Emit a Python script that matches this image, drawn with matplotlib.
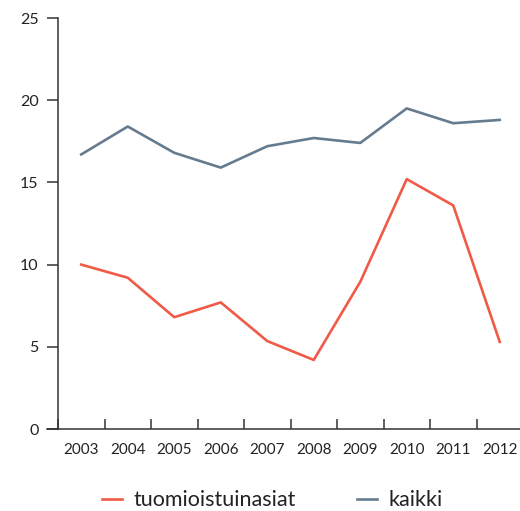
import numpy as np
import matplotlib.pyplot as plt
from matplotlib.ticker import FixedLocator

# Data
years = ['2003', '2004', '2005', '2006', '2007', '2008', '2009', '2010', '2011', '2012']
tuomioistuinasiat = [10.0, 9.2, 6.8, 7.7, 5.35, 4.2, 8.95, 15.2, 13.6, 5.3]
kaikki = [16.7, 18.4, 16.8, 15.9, 17.2, 17.7, 17.4, 19.5, 18.6, 18.8]

red = '#f05a46'
grey = '#667b8e'
axis_col = '#333333'

plt.rcParams['font.family'] = ['Lato', 'DejaVu Sans']

fig = plt.figure(figsize=(5.2, 5.11), dpi=100)
ax = fig.add_axes([58 / 520, 1 - 429 / 511, 1 - 58 / 520, (429 - 18) / 511])

x = np.arange(len(years))
ax.plot(x, tuomioistuinasiat, color=red, lw=1.9, label='tuomioistuinasiat')
ax.plot(x, kaikki, color=grey, lw=1.9, label='kaikki')

ax.set_ylim(0, 25)
ax.set_xlim(-0.5, -0.5 + 462 / 46.5)
ax.set_yticks([0, 5, 10, 15, 20, 25])

ax.set_xticks(x)
ax.set_xticklabels(years)
ax.xaxis.set_minor_locator(FixedLocator(np.arange(len(years)) - 0.5))
ax.tick_params(axis='x', which='major', length=0, pad=10, labelsize=11, labelcolor='#222222')
ax.tick_params(axis='x', which='minor', direction='in', length=7.5, width=1.1, color=axis_col)
ax.tick_params(axis='y', direction='out', length=8, width=1.1, color=axis_col, pad=6,
               labelsize=11.5, labelcolor='#222222')

for s in ['top', 'right']:
    ax.spines[s].set_visible(False)
for s in ['left', 'bottom']:
    ax.spines[s].set_color(axis_col)
    ax.spines[s].set_linewidth(1.1)
ax.spines['bottom'].set_bounds(-0.5 - 11 / 46.5, 10)
ax.spines['bottom'].set_clip_on(False)

leg = fig.legend(loc='center', bbox_to_anchor=(0.524, 0.021), ncol=2, frameon=False,
                 fontsize=15.5, handlelength=0.9, handletextpad=0.55, columnspacing=2.85)
for t in leg.get_texts():
    t.set_color('#222222')

fig.savefig('out.png', dpi=100)
